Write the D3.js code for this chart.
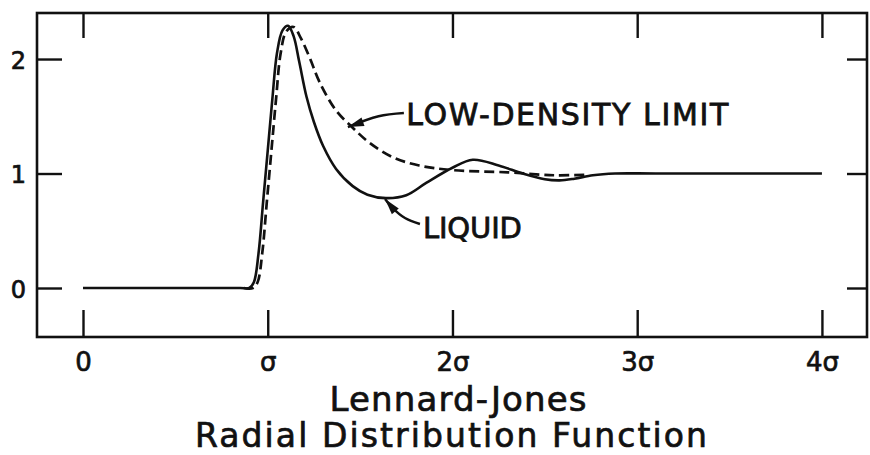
<!DOCTYPE html>
<html><head><meta charset="utf-8">
<script src="https://cdn.jsdelivr.net/npm/d3@7"></script>
<style>
html,body{margin:0;padding:0;background:#fff;}
svg{display:block;}
</style></head>
<body>
<svg id="c" width="870" height="455"></svg>
<script>
// ---- data (r in units of sigma, g(r)) ----
const liquidR = [0, 0.85, 0.90, 0.925, 0.95, 0.975, 1.00, 1.025, 1.05, 1.08, 1.11, 1.14, 1.17, 1.21, 1.25, 1.30, 1.37, 1.46, 1.54, 1.64, 1.75, 1.86, 2.00, 2.11, 2.25, 2.38, 2.50, 2.58, 2.66, 2.76, 2.88, 3.10, 4.00];
const liquidG = [0, 0,    0,    0.05,  0.30, 0.75,  1.20, 1.65,  2.05, 2.25, 2.29, 2.20, 1.98, 1.67, 1.45, 1.24, 1.04, 0.89, 0.815, 0.785, 0.81, 0.92, 1.05, 1.12, 1.07, 1.00, 0.95, 0.94, 0.955, 0.985, 1.00, 1.00, 1.00];
const lowR = [0.87, 0.92, 0.945, 0.97, 0.995, 1.02, 1.045, 1.07, 1.10, 1.14, 1.18, 1.23, 1.28, 1.37, 1.46, 1.55, 1.68, 1.82, 2.00, 2.30, 2.55, 2.74];
const lowG = [0,    0,    0.05,  0.30, 0.75,  1.20, 1.65,  2.05, 2.24, 2.28, 2.18, 2.00, 1.80, 1.55, 1.40, 1.27, 1.14, 1.07, 1.03, 1.01, 0.985, 0.99];
const xTickValues = [0, 1, 2, 3, 4];
const xTickLabels = ["0", "σ", "2σ", "3σ", "4σ"];
const yTickValues = [0, 1, 2];
const yTickLabels = ["0", "1", "2"];
const titleLines = ["Lennard-Jones", "Radial Distribution Function"];
const labelLow = "LOW-DENSITY  LIMIT";
const labelLiquid = "LIQUID";

// ---- layout ----
const svg = d3.select("#c");
const L = 37, R = 867, T = 13, B = 337;
const x = d3.scaleLinear().domain([-0.249, 4.244]).range([L, R]);
const y = d3.scaleLinear().domain([-0.428, 2.402]).range([B, T]);
const font = "'DejaVu Sans', sans-serif";
const ink = "#111";

// frame
svg.append("rect").attr("x", L).attr("y", T).attr("width", R - L).attr("height", B - T)
  .attr("fill", "none").attr("stroke", ink).attr("stroke-width", 2.6);

// axes (inward ticks)
const ax = svg.append("g").attr("transform", `translate(0,${B})`)
  .call(d3.axisBottom(x).tickValues(xTickValues).tickSizeInner(-27).tickSizeOuter(0).tickPadding(16)
    .tickFormat((d, i) => xTickLabels[i]));
const axT = svg.append("g").attr("transform", `translate(0,${T})`)
  .call(d3.axisTop(x).tickValues(xTickValues).tickSizeInner(-25).tickSizeOuter(0).tickFormat(""));
const ay = svg.append("g").attr("transform", `translate(${L},0)`)
  .call(d3.axisLeft(y).tickValues(yTickValues).tickSizeInner(-25).tickSizeOuter(0).tickPadding(11)
    .tickFormat((d, i) => yTickLabels[i]));
const ayR = svg.append("g").attr("transform", `translate(${R},0)`)
  .call(d3.axisRight(y).tickValues(yTickValues).tickSizeInner(-20).tickSizeOuter(0).tickFormat(""));
[ax, axT, ay, ayR].forEach(g => {
  g.select(".domain").remove();
  g.selectAll(".tick line").attr("stroke", ink).attr("stroke-width", 2.4);
  g.selectAll(".tick text").attr("fill", ink).attr("stroke", ink).attr("stroke-width", 0.7)
    .style("font-family", font);
});
ax.selectAll(".tick text").style("font-size", "26px");
ay.selectAll(".tick text").style("font-size", "24px").attr("dy", "0.38em");

// curves
const line = d3.line().x(d => x(d[0])).y(d => y(d[1])).curve(d3.curveCatmullRom.alpha(0.5));
const liquid = liquidR.map((r, i) => [r, liquidG[i]]);
const low = lowR.map((r, i) => [r, lowG[i]]);
svg.append("path").attr("d", line(low)).attr("fill", "none").attr("stroke", ink)
  .attr("stroke-width", 2.7).attr("stroke-dasharray", "10,5");
svg.append("path").attr("d", line(liquid)).attr("fill", "none").attr("stroke", ink)
  .attr("stroke-width", 2.6);

// annotations (data coordinates)
function arrow(pts) {
  const p = d3.line().curve(d3.curveCatmullRom)(pts.map(d => [x(d[0]), y(d[1])]));
  svg.append("path").attr("d", p).attr("fill", "none").attr("stroke", ink).attr("stroke-width", 2.4);
  const a = pts[pts.length - 2], b = pts[pts.length - 1];
  const ax0 = x(a[0]), ay0 = y(a[1]), bx = x(b[0]), by = y(b[1]);
  const ang = Math.atan2(by - ay0, bx - ax0);
  const len = 16, wid = 4.5;
  const bxp = bx - len * Math.cos(ang), byp = by - len * Math.sin(ang);
  const nx = -Math.sin(ang) * wid, ny = Math.cos(ang) * wid;
  svg.append("path").attr("d", `M${bx},${by}L${bxp + nx},${byp + ny}L${bxp - nx},${byp - ny}Z`).attr("fill", ink);
}
arrow([[1.737, 1.528], [1.60, 1.50], [1.434, 1.406]]);
arrow([[1.824, 0.559], [1.743, 0.611], [1.675, 0.70], [1.635, 0.777]]);

function label(t, xv, yv, size, len) {
  svg.append("text").attr("x", x(xv)).attr("y", y(yv)).text(t)
    .style("font-family", font).style("font-size", size + "px").attr("fill", ink)
    .attr("stroke", ink).attr("stroke-width", 0.8)
    .attr("textLength", len).attr("lengthAdjust", "spacing");
}
label(labelLow, 1.75, 1.424, 30, 322);
label(labelLiquid, 1.84, 0.437, 29, 99);

// title
svg.append("text").attr("x", 458).attr("y", 411).attr("text-anchor", "middle").text(titleLines[0])
  .style("font-family", font).style("font-size", "34px").attr("fill", ink)
  .attr("stroke", ink).attr("stroke-width", 0.7)
  .attr("textLength", 257).attr("lengthAdjust", "spacing");
svg.append("text").attr("x", 451).attr("y", 447).attr("text-anchor", "middle").text(titleLines[1])
  .style("font-family", font).style("font-size", "33px").attr("fill", ink)
  .attr("stroke", ink).attr("stroke-width", 0.7)
  .attr("textLength", 512).attr("lengthAdjust", "spacing");
</script>
</body></html>
